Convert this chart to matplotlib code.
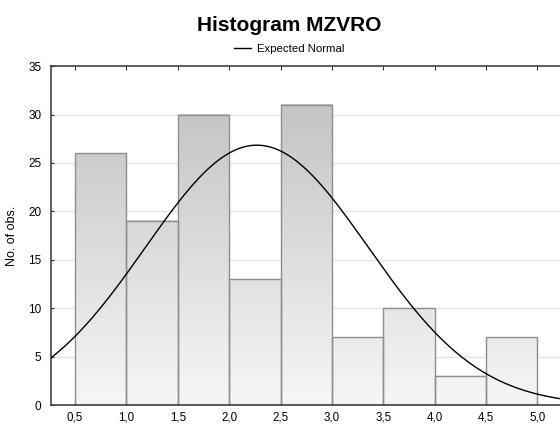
import numpy as np
import matplotlib
matplotlib.use("Agg")
import matplotlib.pyplot as plt
from matplotlib.colors import LinearSegmentedColormap, Normalize

plt.rcParams["font.family"] = ["Liberation Sans", "DejaVu Sans"]

# histogram of MZVRO, bins of width 0.5
bin_edges = [0.5, 1.0, 1.5, 2.0, 2.5, 3.0, 3.5, 4.0, 4.5, 5.0]
counts = [26, 19, 30, 13, 31, 7, 10, 3, 7]
x_ticks = [0.5, 1.0, 1.5, 2.0, 2.5, 3.0, 3.5, 4.0, 4.5, 5.0]
x_tick_labels = ["0,5", "1,0", "1,5", "2,0", "2,5", "3,0", "3,5", "4,0", "4,5", "5,0"]
y_ticks = [0, 5, 10, 15, 20, 25, 30, 35]

# fitted normal curve parameters
norm_mean = 2.27
norm_sd = 1.085

n_obs = sum(counts)
width = bin_edges[1] - bin_edges[0]

fig = plt.figure(figsize=(5.6, 4.24), dpi=100)
ax = fig.add_axes([0.091, 0.0445, 0.909, 0.7995])
x_lo, x_hi = 0.2665, 5.219

ax.set_yticks(y_ticks)
ax.set_yticklabels([str(v) for v in y_ticks], fontsize=8.5)
ax.set_xticks(x_ticks)
ax.set_xticklabels(x_tick_labels, fontsize=8.3)
ax.tick_params(axis="y", direction="in", length=2, pad=7, color="#333333")
ax.tick_params(axis="x", direction="in", length=3, top=True, pad=4.5, color="#333333")

for y in y_ticks[1:-1]:
    ax.axhline(y, color="#e2e2e2", lw=1, zorder=0)

for side in ["left", "bottom", "top"]:
    ax.spines[side].set_color("#333333")
    ax.spines[side].set_linewidth(1.1)
ax.spines["right"].set_visible(False)

# bars: vertical gray gradient, darker toward the top of the axis
cmap = LinearSegmentedColormap.from_list("bargrad", ["#f6f6f6", "#bebebe"])
norm = Normalize(0, 35)
for left, h in zip(bin_edges[:-1], counts):
    grad = np.linspace(0, h, 200).reshape(-1, 1)
    ax.imshow(grad, extent=[left, left + width, 0, h], origin="lower",
              aspect="auto", cmap=cmap, norm=norm, zorder=1, interpolation="bilinear")
ax.bar(bin_edges[:-1], counts, width=width, align="edge", facecolor="none",
       edgecolor="#8e8e8e", linewidth=1, zorder=2)
ax.set_xlim(x_lo, x_hi)
ax.set_ylim(0, 35)

xs = np.linspace(x_lo, x_hi, 400)
ys = n_obs * width * np.exp(-0.5 * ((xs - norm_mean) / norm_sd) ** 2) / (norm_sd * np.sqrt(2 * np.pi))
line, = ax.plot(xs, ys, color="black", lw=1, zorder=3, label="Expected Normal")

ax.set_ylabel("No. of obs.", fontsize=9)
ax.yaxis.set_label_coords(-0.064, 0.5)

fig.text(0.516, 0.941, "Histogram MZVRO", ha="center", va="center",
         fontsize=15, fontweight="bold")
fig.legend(handles=[line], loc="center", bbox_to_anchor=(0.516, 0.884),
           frameon=False, fontsize=8.2, handlelength=1.5, handletextpad=0.5)

fig.savefig("out.png", dpi=100)
